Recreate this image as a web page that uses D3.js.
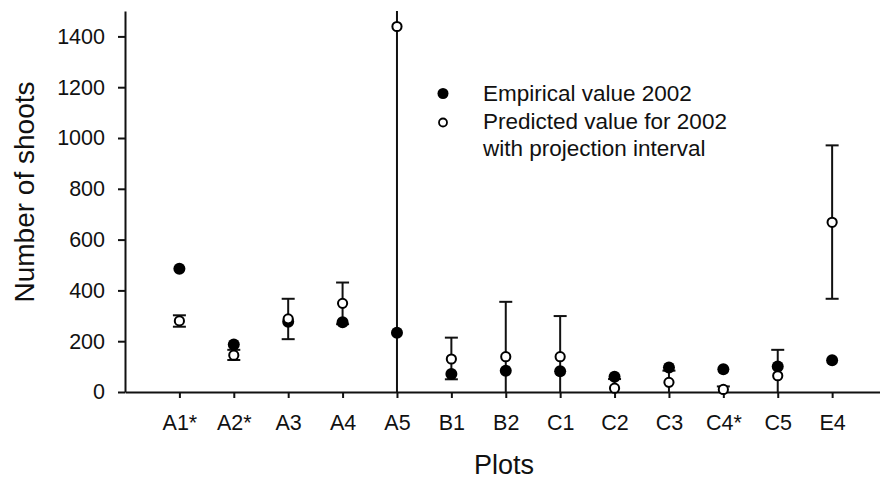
<!DOCTYPE html>
<html>
<head>
<meta charset="utf-8">
<script src="https://cdn.jsdelivr.net/npm/d3@7"></script>
<style>
  body { margin: 0; background: #fff; }
  text { font-family: "Liberation Sans", Arial, sans-serif; fill: #111; }
  .axis path, .axis line { stroke: #111; stroke-width: 2; }
  .axis text { font-size: 21.5px; }
</style>
</head>
<body>
<div id="plot"></div>
<script>
// values
var plots = ["A1*", "A2*", "A3", "A4", "A5", "B1", "B2", "C1", "C2", "C3", "C4*", "C5", "E4"];
var empirical = [485, 187, 277, 275, 233, 71, 84, 82, 60, 96, 90, 100, 125];
var predicted = [280, 145, 288, 349, 1439, 130, 139, 139, 15, 38, 10, 64, 668];
var lower = [257, 126, 208, 267, 0, 50, 0, 0, 0, 0, 0, 0, 367];
var upper = [302, 166, 367, 431, 1600, 214, 355, 299, 51, 84, 22, 166, 971];
var yTicks = [0, 200, 400, 600, 800, 1000, 1200, 1400];

var width = 880, height = 483;

var svg = d3.select("div#plot")
  .append("svg")
    .attr("width", width)
    .attr("height", height);

var xscale = d3.scaleLinear()
  .domain([-1, 12.88])
  .range([125, 880]);

var yscale = d3.scaleLinear()
  .domain([0, 1500])
  .range([392, 11])
  .clamp(true);

var xAxis = d3.axisBottom(xscale)
  .tickValues(d3.range(plots.length))
  .tickFormat(function(i) { return plots[i]; })
  .tickSize(6)
  .tickSizeOuter(0)
  .tickPadding(17);

var yAxis = d3.axisLeft(yscale)
  .tickValues(yTicks)
  .tickFormat(d3.format("d"))
  .tickSize(7)
  .tickSizeOuter(0)
  .tickPadding(13);

svg.append("g")
  .attr("class", "x axis")
  .attr("transform", "translate(0,392)")
  .call(xAxis);

svg.append("g")
  .attr("class", "y axis")
  .attr("transform", "translate(125,0)")
  .call(yAxis);

var data = plots.map(function(p, i) {
  return { i: i, emp: empirical[i], pred: predicted[i], lo: lower[i], hi: upper[i] };
});

// error bars
var bars = svg.selectAll("g.err")
  .data(data)
  .enter().append("g")
  .attr("class", "err")
  .attr("stroke", "#111")
  .attr("stroke-width", 2);

bars.append("line")
  .attr("x1", function(d) { return xscale(d.i); })
  .attr("x2", function(d) { return xscale(d.i); })
  .attr("y1", function(d) { return yscale(d.lo); })
  .attr("y2", function(d) { return yscale(d.hi); });

bars.filter(function(d) { return d.hi <= 1500; })
  .append("line")
  .attr("x1", function(d) { return xscale(d.i) - 6.5; })
  .attr("x2", function(d) { return xscale(d.i) + 6.5; })
  .attr("y1", function(d) { return yscale(d.hi); })
  .attr("y2", function(d) { return yscale(d.hi); });

bars.filter(function(d) { return d.lo > 0; })
  .append("line")
  .attr("x1", function(d) { return xscale(d.i) - 6.5; })
  .attr("x2", function(d) { return xscale(d.i) + 6.5; })
  .attr("y1", function(d) { return yscale(d.lo); })
  .attr("y2", function(d) { return yscale(d.lo); });

svg.selectAll("circle.emp")
  .data(data)
  .enter().append("circle")
  .attr("class", "emp")
  .attr("cx", function(d) { return xscale(d.i); })
  .attr("cy", function(d) { return yscale(d.emp); })
  .attr("r", 6)
  .style("fill", "#000");

svg.selectAll("circle.pred")
  .data(data)
  .enter().append("circle")
  .attr("class", "pred")
  .attr("cx", function(d) { return xscale(d.i); })
  .attr("cy", function(d) { return yscale(d.pred); })
  .attr("r", 4.6)
  .style("fill", "#fff")
  .style("stroke", "#000")
  .style("stroke-width", 2);

// legend
svg.append("circle")
  .attr("cx", 443).attr("cy", 93.5).attr("r", 5.5)
  .style("fill", "#000");
svg.append("circle")
  .attr("cx", 443).attr("cy", 122.5).attr("r", 4)
  .style("fill", "#fff").style("stroke", "#000").style("stroke-width", 1.8);

var legendText = ["Empirical value 2002", "Predicted value for 2002", "with projection interval"];
svg.selectAll("text.legend")
  .data(legendText)
  .enter().append("text")
  .attr("class", "legend")
  .attr("x", 483)
  .attr("y", function(d, i) { return 101 + i * 27.5; })
  .style("font-size", "22.5px")
  .text(function(d) { return d; });

// axis titles
svg.append("text")
  .attr("x", 504)
  .attr("y", 474)
  .attr("text-anchor", "middle")
  .style("font-size", "27px")
  .text("Plots");

svg.append("text")
  .attr("transform", "translate(34,192) rotate(-90)")
  .attr("text-anchor", "middle")
  .style("font-size", "28px")
  .text("Number of shoots");
</script>
</body>
</html>
